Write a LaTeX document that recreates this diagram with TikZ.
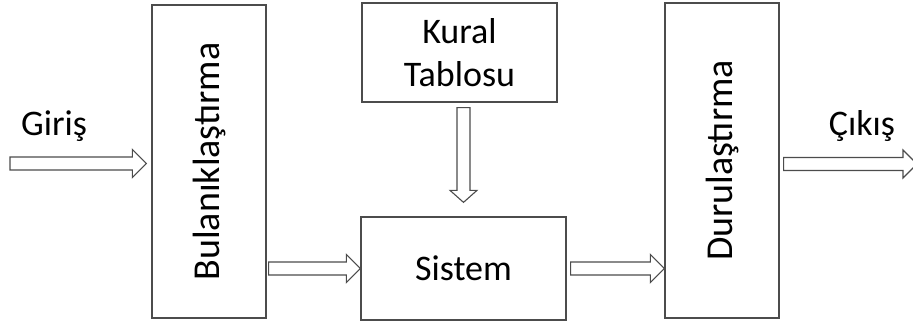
\documentclass[tikz,border=0pt]{standalone}
\usepackage{fontspec}
\setmainfont{Carlito}
\usetikzlibrary{calc}
\tikzset{
  blk/.style={draw=black!70, line width=1.3pt, fill=white, inner sep=0pt, font=\fontsize{36}{43}\selectfont},
  rot/.style={blk, font=\fontsize{38}{43}\selectfont},
  arr/.style={draw=black!70, line width=1.1pt, fill=white, line join=miter},
  lbl/.style={inner sep=0pt, font=\fontsize{36}{43}\selectfont, anchor=base}
}
\newcommand\harrow[2]{%
  \draw[arr] let \p1=(#1), \p2=(#2) in
    (\x1,\y1+6.5) -- (\x2-14,\y1+6.5) -- (\x2-14,\y1+14) -- (\x2,\y1) -- (\x2-14,\y1-14) -- (\x2-14,\y1-6.5) -- (\x1,\y1-6.5) -- cycle;}
\newcommand\varrow[2]{%
  \draw[arr] let \p1=(#1), \p2=(#2) in
    (\x1-6.5,\y1) -- (\x1-6.5,\y2+12) -- (\x1-13.5,\y2+12) -- (\x1,\y2) -- (\x1+13.5,\y2+12) -- (\x1+6.5,\y2+12) -- (\x1+6.5,\y1) -- cycle;}
\begin{document}
\begin{tikzpicture}[x=1pt,y=-1pt]
\useasboundingbox (0,0) rectangle (913,325);
\node[rot, minimum width=114pt, minimum height=313pt] (bul) at (209,161.5) {\rotatebox{90}{Bulanıklaştırma}};
\node[blk, minimum width=195pt, minimum height=99pt, align=center] (kur) at (459.5,52.5) {Kural\\Tablosu};
\node[blk, minimum width=205pt, minimum height=103pt] (sis) at (463.5,268.5) {Sistem};
\node[rot, minimum width=114pt, minimum height=315pt] (dur) at (722,160.5) {\rotatebox{90}{Durulaştırma}};
\node[lbl] (gir) at (54,135) {Giriş};
\node[lbl] (cik) at (862,135) {Çıkış};
\coordinate (inS) at (10,163.5);
\coordinate (outE) at (917,164);
% connectors
\harrow{inS}{$(bul.west)+(-5,0)$}
\harrow{$(bul.east |- sis.west)+(2,0)$}{sis.west}
\varrow{$(kur.south -| sis.north)+(0,5)$}{$(sis.north)+(0,-14)$}
\harrow{$(sis.east)+(4,0)$}{$(dur.west |- sis.east)$}
\harrow{$(dur.east |- outE)+(4,0)$}{outE}
\end{tikzpicture}
\end{document}
